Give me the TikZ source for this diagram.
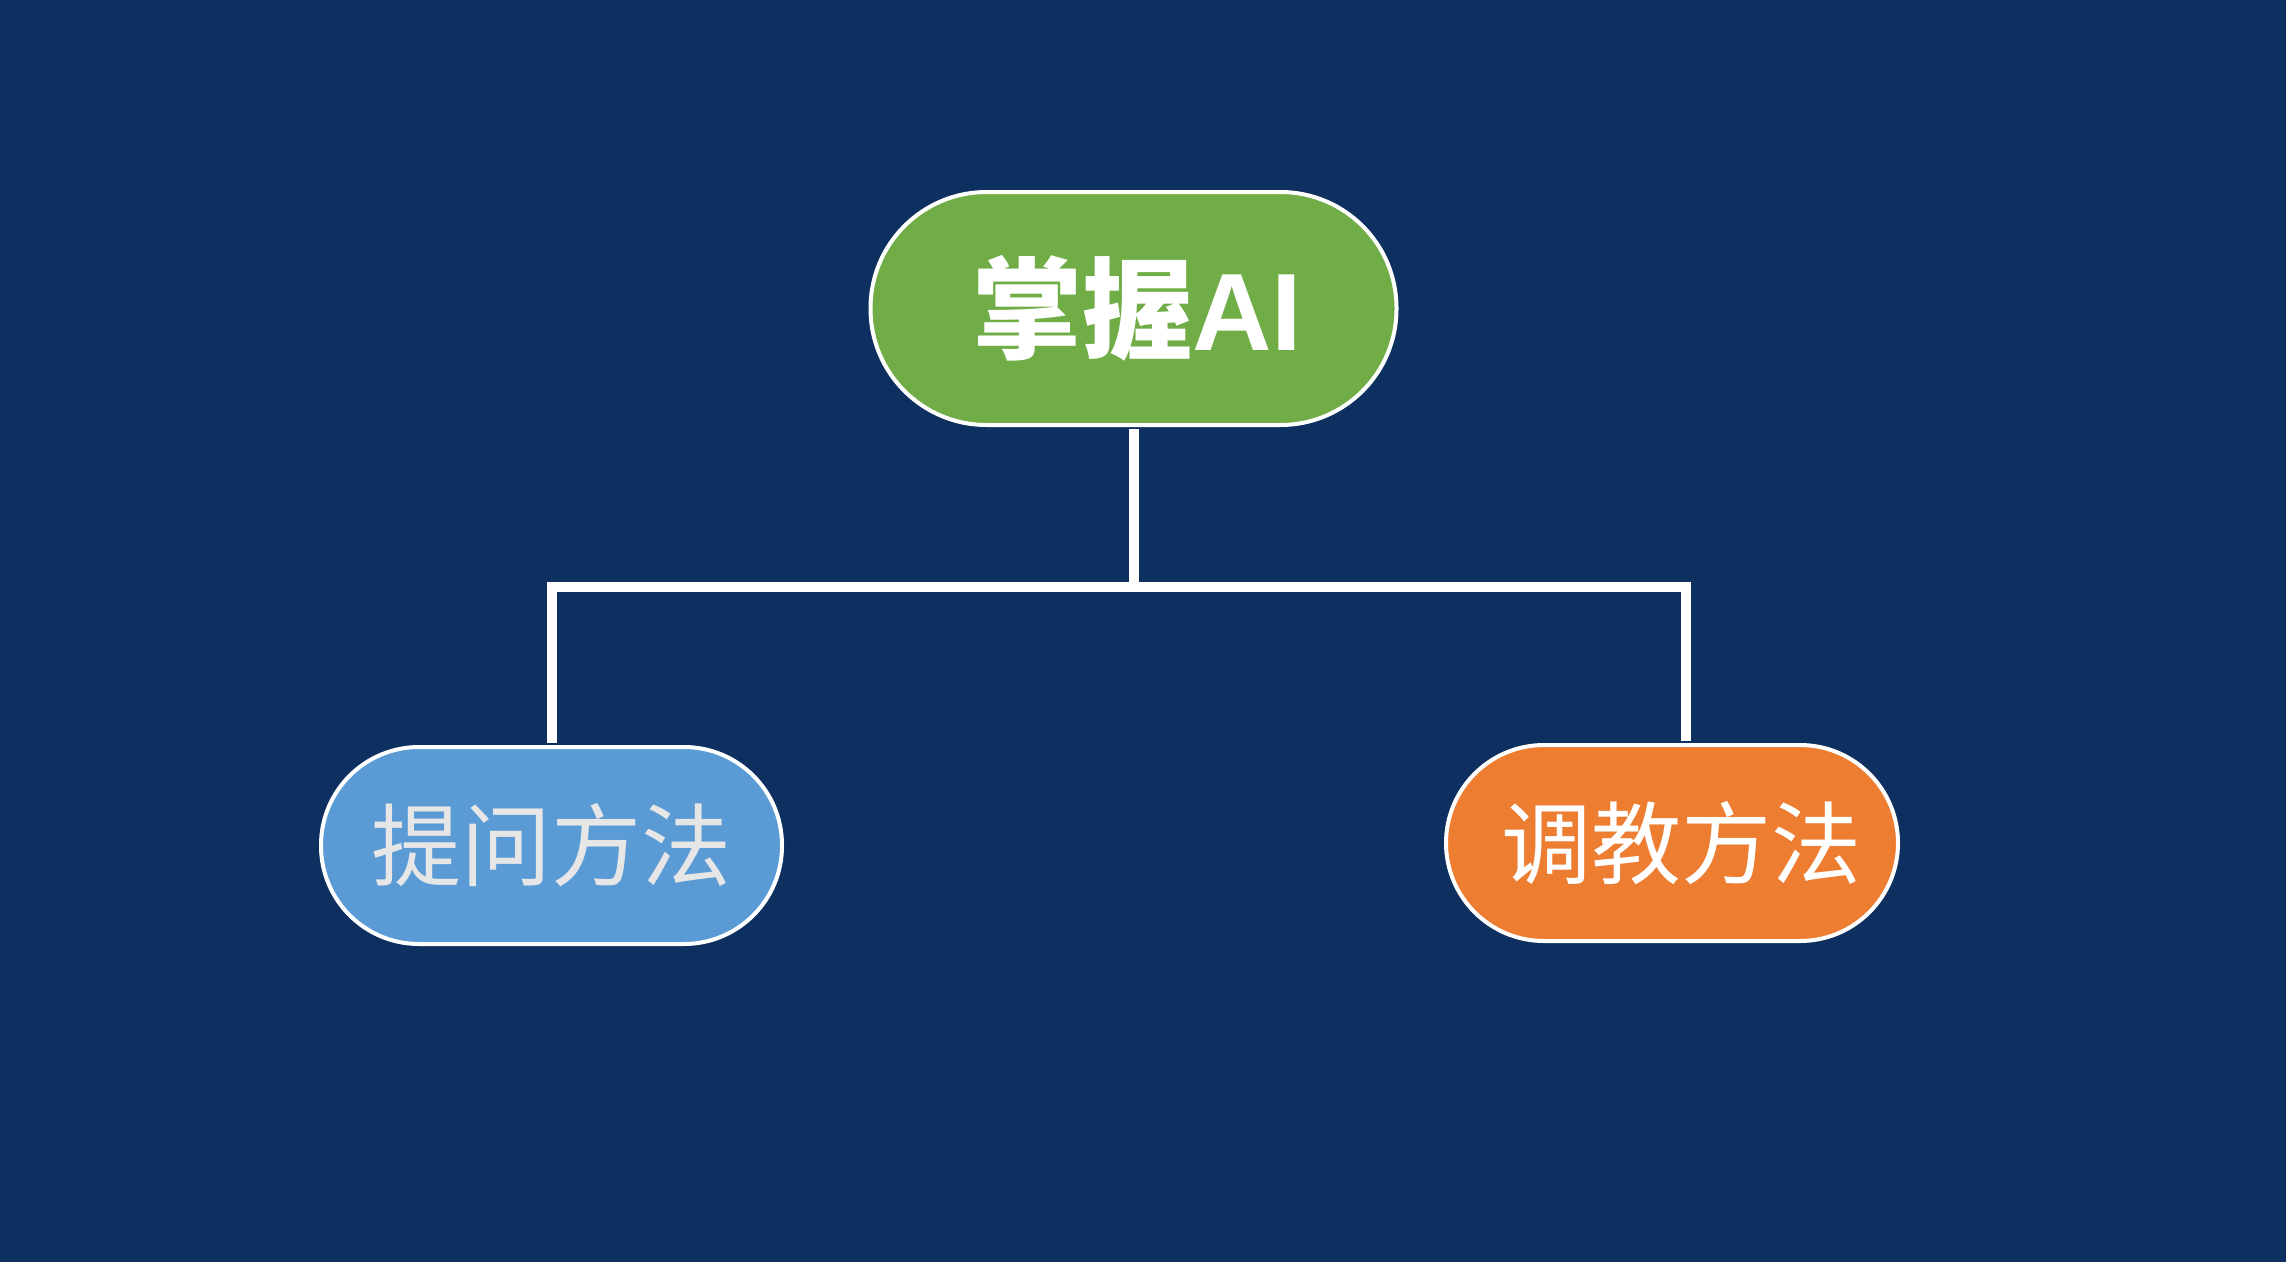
\documentclass[tikz,border=0pt]{standalone}
\usepackage{fontspec}
\newfontfamily\cjk{Noto Sans CJK SC}
\newfontfamily\latinsans{Liberation Sans}
\usetikzlibrary{calc}
\definecolor{bgblue}{RGB}{13,48,96}
\definecolor{nodegreen}{RGB}{112,173,71}
\definecolor{nodeblue}{RGB}{91,155,213}
\definecolor{nodeorange}{RGB}{237,125,49}
\definecolor{lightgrey}{RGB}{231,230,230}
\tikzset{
  pill/.style={draw=white, line width=4pt, inner sep=0pt, align=center},
  conn/.style={draw=white, line width=10pt, line join=miter, line cap=butt},
}
\begin{document}
\begin{tikzpicture}[x=1pt,y=-1pt]
\fill[bgblue] (0,0) rectangle (2286,1262);
\useasboundingbox (0,0) rectangle (2286,1262);
\node[pill, fill=nodegreen, minimum width=526pt, minimum height=233pt, rounded corners=116pt,
      text=white, font={\cjk\bfseries\fontsize{110}{130}\selectfont}] (top) at (1133.5,308.5) {\hspace*{8pt}掌握{\latinsans\bfseries AI}};
\node[pill, fill=nodeblue, minimum width=461pt, minimum height=197pt, rounded corners=98pt,
      text=lightgrey, font={\cjk\fontsize{90}{108}\selectfont}] (left) at (551.5,845.5) {提问方法};
\node[pill, fill=nodeorange, minimum width=452pt, minimum height=196pt, rounded corners=98pt,
      text=white, font={\cjk\fontsize{90}{108}\selectfont}] (right) at (1672,843) {\hspace*{18pt}调教方法};
\coordinate (bar) at (0,586.5);
\coordinate (rtop) at ($(right.north)+(13.5,0)$);
\draw[conn] ([yshift=-2pt]top.south) -- (top.south |- bar);
\draw[conn] ([yshift=2pt]left.north) -- (left.north |- bar) -- (rtop |- bar) -- ([yshift=2pt]rtop);
\end{tikzpicture}
\end{document}
